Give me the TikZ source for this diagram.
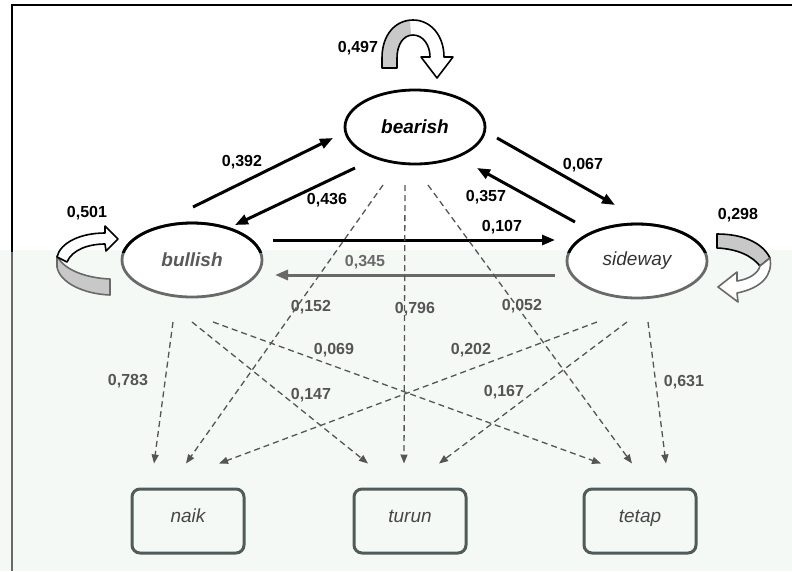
\documentclass[tikz,border=0pt]{standalone}
\usepackage{fontspec}
\setmainfont{Liberation Sans}
\usetikzlibrary{shapes.geometric,arrows.meta,calc}
\definecolor{fadegray}{RGB}{105,105,105}
\definecolor{dashgray}{RGB}{85,85,85}
\definecolor{boxgray}{RGB}{80,92,87}
\definecolor{tint}{RGB}{244,249,246}
\definecolor{loopgray}{RGB}{200,200,200}
\begin{document}
\begin{tikzpicture}[x=1pt,y=-1pt,
  state/.style={ellipse,minimum width=140pt,minimum height=74pt,inner sep=0pt,line width=2.8pt,fill=white},
  outbox/.style={rounded corners=8pt,minimum width=112pt,minimum height=64pt,inner sep=0pt,draw=boxgray,line width=3pt,text=black!72,font=\fontsize{19}{21}\selectfont\itshape},
  solidarr/.style={line width=3pt,-{Triangle[length=13pt,width=10pt]}},
  dasharr/.style={draw=dashgray,line width=1.3pt,dash pattern=on 6pt off 4pt,-{Triangle[length=9pt,width=7pt]}},
  val/.style={font=\fontsize{16}{18}\selectfont\bfseries,inner sep=1pt},
  dval/.style={val,text=dashgray},
]
\useasboundingbox (0,0) rectangle (792,571);
\fill[tint] (0,250) rectangle (792,571);
% frame
\draw[line width=2.5pt] (792,5) -- (12,5) -- (12,252);
\draw[line width=2.5pt,fadegray] (12,252) -- (12,571);

% states
\node[state,draw=black] (bea) at (415,127) {\fontsize{19}{21}\selectfont\bfseries\itshape bearish};
\node[state,draw=fadegray,text=black!65] (bul) at (192,260) {\fontsize{19}{21}\selectfont\bfseries\itshape bullish};
\node[state,draw=fadegray,text=black!80] (sid) at (637,261) {\fontsize{19}{21}\selectfont\itshape sideway};
\begin{scope}
\clip (0,0) rectangle (792,252);
\draw[line width=2.8pt] (bul.center) ellipse [x radius=70, y radius=37];
\draw[line width=2.8pt] (sid.center) ellipse [x radius=70, y radius=37];
\end{scope}

% outcome boxes
\node[outbox] (naik) at (188,521) {\raisebox{10pt}{naik}};
\node[outbox] (turun) at (410,521) {\raisebox{10pt}{turun}};
\node[outbox] (tetap) at (640,521) {\raisebox{10pt}{tetap}};

% solid transitions
\draw[solidarr] ($(bul)+(1,-53)$) -- ($(bea)+(-82,11)$);
\draw[solidarr] ($(bea)+(-60,41)$) -- ($(bul)+(43,-35)$);
\draw[solidarr] ($(bea)+(82,11)$) -- ($(sid)+(-22,-56)$);
\draw[solidarr] ($(sid)+(-62,-39)$) -- ($(bea)+(62,41)$);
\draw[solidarr] ($(bul)+(81,-20)$) -- ($(sid)+(-82,-21)$);
\draw[solidarr,fadegray] ($(sid)+(-82,14)$) -- ($(bul)+(83,15)$);

% dashed emissions
\draw[dasharr] ($(bul)+(-19,62)$) -- ($(naik.north)+(-34,-24)$);
\draw[dasharr] ($(bul)+(0,62)$) -- ($(turun.north)+(-42,-24)$);
\draw[dasharr] ($(bul)+(21,62)$) -- ($(tetap.north)+(-39,-24)$);
\draw[dasharr] ($(bea)+(-32,58)$) -- ($(naik.north)+(-2,-24)$);
\draw[dasharr] ($(bea)+(-10,58)$) -- ($(turun.north)+(-6,-24)$);
\draw[dasharr] ($(bea)+(13,58)$) -- ($(tetap.north)+(-8,-24)$);
\draw[dasharr] ($(sid)+(-40,61)$) -- ($(naik.north)+(31,-24)$);
\draw[dasharr] ($(sid)+(-10,61)$) -- ($(turun.north)+(29,-24)$);
\draw[dasharr] ($(sid)+(11,61)$) -- ($(tetap.north)+(26,-24)$);

% self loops
% bearish
\fill[white] (382,68) -- (382,58) .. controls (382,34) and (396,20) .. (413,20) .. controls (431,20) and (444,36) .. (444,57) -- (453,57) -- (437,78) -- (421,57) -- (430,57) .. controls (430,45) and (423,35) .. (413,35) .. controls (403,35) and (397,45) .. (397,58) -- (397,68) -- cycle;
\fill[loopgray] (382,68) -- (382,58) .. controls (382,34) and (396,20) .. (410,20) -- (411,35) .. controls (402,36) and (397,45) .. (397,58) -- (397,68) -- cycle;
\draw[line width=1.6pt,line join=round] (382,68) -- (382,58) .. controls (382,34) and (396,20) .. (413,20) .. controls (431,20) and (444,36) .. (444,57) -- (453,57) -- (437,78) -- (421,57) -- (430,57) .. controls (430,45) and (423,35) .. (413,35) .. controls (403,35) and (397,45) .. (397,58) -- (397,68) -- cycle;
% bullish
\filldraw[fill=loopgray,draw=fadegray,line width=1.6pt,line join=round] (57,256) -- (57,267) .. controls (60,283) and (84,294) .. (110,295) -- (110,279) .. controls (86,278) and (64,270) .. (57,256) -- cycle;
\filldraw[fill=white,draw=black,line width=1.6pt,line join=round] (57,257) .. controls (60,243) and (80,233) .. (105,233) -- (105,226) -- (118,239) -- (106,251) -- (105,244) .. controls (88,244) and (72,250) .. (67,262) -- cycle;
% sideway
\filldraw[fill=loopgray,draw=black,line width=1.6pt,line join=round] (717,234) .. controls (742,234) and (762,242) .. (770,258) -- (760,266) .. controls (752,256) and (738,249) .. (717,248) -- cycle;
\filldraw[fill=white,draw=fadegray,line width=1.6pt,line join=round] (770,258) .. controls (773,275) and (762,288) .. (737,293) -- (738,302) -- (718,287) -- (737,272) -- (737,281) .. controls (750,279) and (758,273) .. (760,266) -- cycle;

% values
\node[val] (v497) at (358,48) {0,497};
\node[val] (v501) at (87,213) {0,501};
\node[val] (v298) at (738,215) {0,298};
\node[val] (v392) at (242,162) {0,392};
\node[val] (v436) at (327,200) {0,436};
\node[val] (v067) at (583,165) {0,067};
\node[val] (v357) at (486,197) {0,357};
\node[val] (v107) at (502,227) {0,107};
\node[val,text=fadegray] (v345) at (365,262) {0,345};
\node[dval] (v152) at (311,307) {0,152};
\node[dval] (v796) at (415,309) {0,796};
\node[dval] (v052) at (522,306) {0,052};
\node[dval] (v069) at (334,350) {0,069};
\node[dval] (v202) at (471,350) {0,202};
\node[dval] (v147) at (311,395) {0,147};
\node[dval] (v167) at (504,392) {0,167};
\node[dval] (v783) at (128,381) {0,783};
\node[dval] (v631) at (684,382) {0,631};
\end{tikzpicture}
\end{document}
